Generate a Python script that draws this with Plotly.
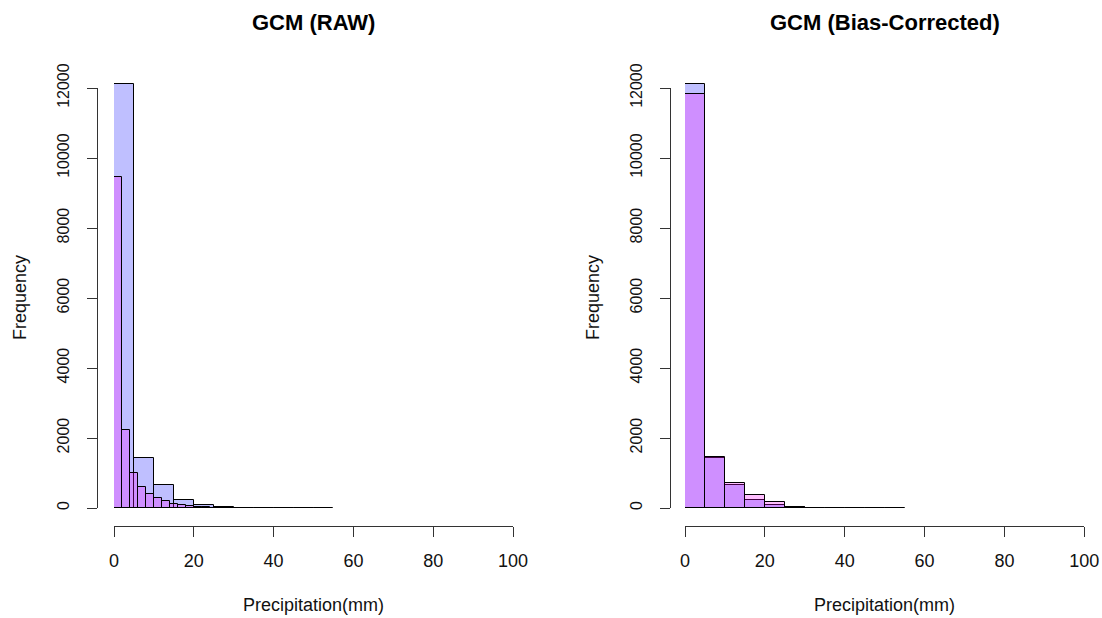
import plotly.graph_objects as go

# ---- data ----
obs_edges = [0, 5, 10, 15, 20, 25, 30, 35, 40, 45, 50]          # bin left edges, width 5
obs_counts = [12114, 1430, 670, 240, 78, 38, 8, 3, 2, 1, 1]

raw_edges = [0, 2, 4, 6, 8, 10, 12, 14, 16, 18, 20, 22, 24, 26, 28]  # width 2
raw_counts = [9455, 2230, 1010, 605, 405, 272, 200, 128, 92, 55, 35, 22, 12, 5, 2]

bc_edges = [0, 5, 10, 15, 20, 25]                                 # width 5
bc_counts = [11830, 1445, 705, 385, 170, 35]

x_ticks = [0, 20, 40, 60, 80, 100]
y_ticks = [0, 2000, 4000, 6000, 8000, 10000, 12000]
titles = ["GCM (RAW)", "GCM (Bias-Corrected)"]

W, H = 1102, 618
BLUE = "rgba(0,0,255,0.25)"
PINK = "rgba(255,0,255,0.25)"
FONT = "Liberation Sans, Arial, sans-serif"

def px_x(p):
    return p / W

def px_y(p):
    return 1 - p / H

# pixel geometry of each panel: x of data 0 and 100, y-axis line x
panels = [
    dict(x0=114, x100=513, yline=97),
    dict(x0=685, x100=1084.3, yline=670),
]
Y0_PX, Y12K_PX, YTOP_PX = 508, 88, 66
XLINE_PX = 526
scale = (Y0_PX - Y12K_PX) / 12000.0
ymax_data = (Y0_PX - YTOP_PX) / scale

fig = go.Figure()

series = [
    (obs_edges, obs_counts, 5, BLUE, raw_edges, raw_counts, 2),
    (obs_edges, obs_counts, 5, BLUE, bc_edges, bc_counts, 5),
]

for i, (e1, c1, w1, col1, e2, c2, w2) in enumerate(series):
    xa = "x" if i == 0 else "x2"
    ya = "y" if i == 0 else "y2"
    fig.add_trace(go.Bar(x=e1, y=c1, width=w1, offset=0, xaxis=xa, yaxis=ya,
                         marker=dict(color=col1, line=dict(color="black", width=1)),
                         showlegend=False, hoverinfo="skip"))
    fig.add_trace(go.Bar(x=e2, y=c2, width=w2, offset=0, xaxis=xa, yaxis=ya,
                         marker=dict(color=PINK, line=dict(color="black", width=1)),
                         showlegend=False, hoverinfo="skip"))
    # empty trace so the R-style frequency axis gets drawn
    fig.add_trace(go.Scatter(x=[], y=[], xaxis=xa, yaxis="y" + str(i + 3),
                             mode="markers", showlegend=False, hoverinfo="skip"))

layout = dict(
    template="none",
    width=W, height=H, margin=dict(l=0, r=0, t=0, b=0, pad=0),
    paper_bgcolor="white", plot_bgcolor="rgba(0,0,0,0)",
    barmode="overlay", bargap=0, showlegend=False,
    font=dict(family=FONT, color="black"),
)

annotations = []
for i, p in enumerate(panels):
    sfx = "" if i == 0 else "2"
    dsfx = str(i + 3)
    layout["xaxis" + sfx] = dict(
        domain=[px_x(p["x0"]), px_x(p["x100"])], range=[0, 100],
        anchor="free", position=px_y(XLINE_PX), automargin=False,
        tickvals=x_ticks, ticktext=[str(v) for v in x_ticks],
        showline=True, linecolor="#333", linewidth=1,
        ticks="outside", ticklen=10, tickcolor="#333", tickwidth=1,
        showgrid=False, zeroline=False, ticklabelstandoff=8,
        tickfont=dict(size=18, family=FONT, color="#111"),
        fixedrange=True,
    )
    layout["yaxis" + sfx] = dict(
        domain=[px_y(Y0_PX), px_y(YTOP_PX)], range=[0, ymax_data],
        anchor="x" + sfx, showline=False, showgrid=False, zeroline=False,
        showticklabels=False, ticks="", fixedrange=True, automargin=False,
    )
    layout["yaxis" + dsfx] = dict(
        domain=[px_y(Y0_PX), px_y(Y12K_PX)], range=[0, 12000],
        anchor="free", position=px_x(p["yline"]), automargin=False,
        tickvals=y_ticks, ticktext=[str(v) for v in y_ticks],
        tickangle=-90,
        showline=True, linecolor="#333", linewidth=1,
        ticks="outside", ticklen=10, tickcolor="#333", tickwidth=1,
        showgrid=False, zeroline=False, ticklabelstandoff=12,
        tickfont=dict(size=16, family=FONT, color="#111"),
        fixedrange=True,
    )
    cx = px_x((p["x0"] - 4 * (p["x100"] - p["x0"]) / 100 + p["x100"] + 4 * (p["x100"] - p["x0"]) / 100) / 2)
    annotations.append(dict(text="<b>" + titles[i] + "</b>", x=cx, y=px_y(22),
                            xref="paper", yref="paper", xanchor="center", yanchor="middle",
                            showarrow=False, font=dict(size=22, family=FONT, color="black")))
    annotations.append(dict(text="Precipitation(mm)", x=cx, y=px_y(605),
                            xref="paper", yref="paper", xanchor="center", yanchor="middle",
                            showarrow=False, font=dict(size=18, family=FONT, color="#111")))
    annotations.append(dict(text="Frequency", x=px_x(p["yline"] - 77), y=px_y(298),
                            xref="paper", yref="paper", xanchor="center", yanchor="middle",
                            textangle=-90, showarrow=False,
                            font=dict(size=18, family=FONT, color="#111")))

layout["annotations"] = annotations
fig.update_layout(**layout)
fig.write_html("out.html")
